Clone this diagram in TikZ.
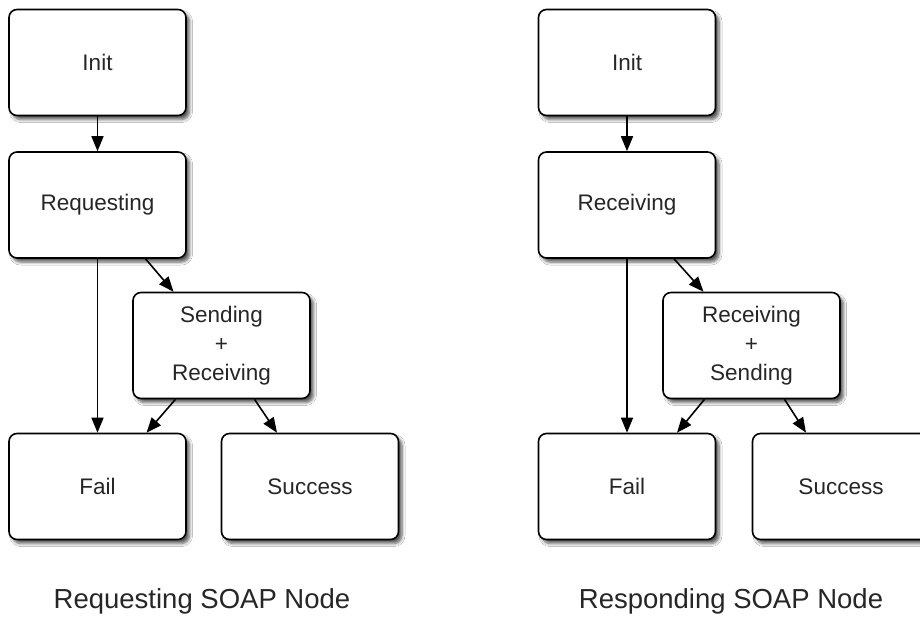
\documentclass[tikz,border=0pt]{standalone}
\usepackage{fontspec}
\setmainfont{Liberation Sans}
\usetikzlibrary{arrows.meta,shadows.blur}
\tikzset{
  statebox/.style={draw=black, line width=1.6pt, rounded corners=8pt, fill=white,
    minimum width=177pt, minimum height=106pt, inner sep=0pt, align=center,
    font=\fontsize{22.5}{29}\selectfont, text=black!85,
    blur shadow={shadow xshift=3.5pt, shadow yshift=-4pt, shadow blur steps=6, shadow blur radius=3pt, shadow opacity=65}},
  flow/.style={line width=1.6pt, draw=black, -{Triangle[length=15pt,width=12pt]}},
  caption/.style={font=\fontsize{27.5}{33}\selectfont, text=black!85, anchor=base}
}
\begin{document}
\begin{tikzpicture}[x=1pt,y=-1pt]
\useasboundingbox[fill=white] (0,0) rectangle (920,616);
% left diagram
\node[statebox] (linit) at (97.5,62.5) {Init};
\node[statebox] (lreq) at (97.5,205) {Requesting};
\node[statebox] (lsend) at (221.5,345.5) {Sending\\+\\Receiving};
\node[statebox] (lfail) at (97.5,486.5) {Fail};
\node[statebox] (lsucc) at (310,486.5) {Success};
\draw[flow] (linit.south) -- (lreq.north);
\draw[flow] (lreq.south) -- (lfail.north);
\draw[flow] ([xshift=48pt]lreq.south) -- ([xshift=-48pt]lsend.north);
\draw[flow] ([xshift=-46pt]lsend.south) -- ([xshift=49pt]lfail.north);
\draw[flow] ([xshift=33pt]lsend.south) -- ([xshift=-33pt]lsucc.north);
\node[caption] (lcap) at (202,608) {Requesting SOAP Node};
% right diagram
\node[statebox] (rinit) at (627,62.5) {Init};
\node[statebox] (rrecv) at (627,205) {Receiving};
\node[statebox] (rsend) at (751.5,345.5) {Receiving\\+\\Sending};
\node[statebox] (rfail) at (627,486.5) {Fail};
\node[statebox] (rsucc) at (841,486.5) {Success};
\draw[flow] (rinit.south) -- (rrecv.north);
\draw[flow] (rrecv.south) -- (rfail.north);
\draw[flow] ([xshift=47pt]rrecv.south) -- ([xshift=-48pt]rsend.north);
\draw[flow] ([xshift=-47pt]rsend.south) -- ([xshift=50pt]rfail.north);
\draw[flow] ([xshift=33pt]rsend.south) -- ([xshift=-35pt]rsucc.north);
\node[caption] (rcap) at (731,608) {Responding SOAP Node};
\end{tikzpicture}
\end{document}
